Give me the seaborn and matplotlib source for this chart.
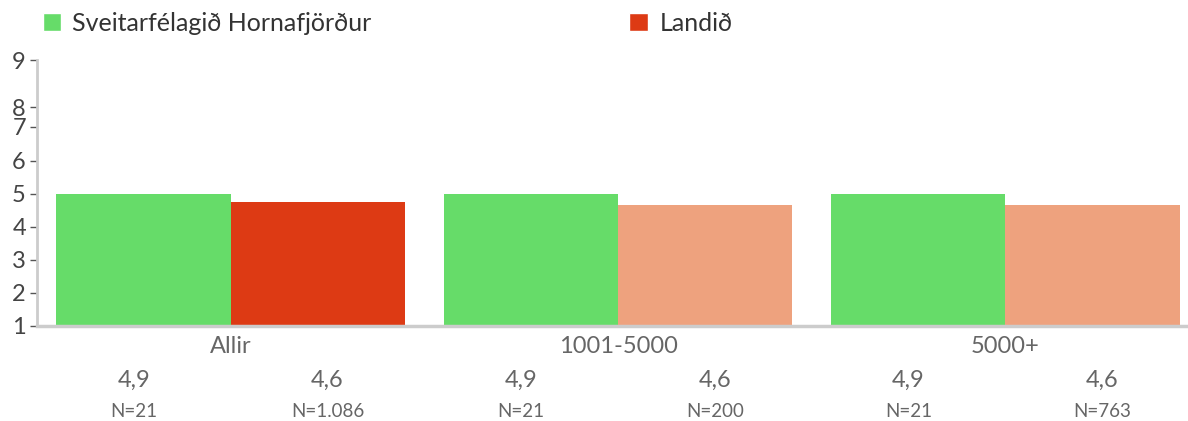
import pandas as pd
import seaborn as sns
import matplotlib.pyplot as plt
from matplotlib.patches import Patch

# data
categories = ['Allir', '1001-5000', '5000+']
series = ['Sveitarfélagið Hornafjörður', 'Landið']
hornafjordur = [4.99, 4.99, 4.99]
landid = [4.75, 4.67, 4.67]
value_labels_h = ['4,9', '4,9', '4,9']
value_labels_l = ['4,6', '4,6', '4,6']
n_labels_h = ['N=21', 'N=21', 'N=21']
n_labels_l = ['N=1.086', 'N=200', 'N=763']
ytick_vals = [1, 2, 3, 4, 5, 6, 7.03, 7.62, 9.04]
ytick_labels = ['1', '2', '3', '4', '5', '6', '7', '8', '9']

green = '#66dc69'
red = '#dd3a14'
salmon = '#eea27e'

sns.set_style('white')
plt.rcParams['font.family'] = ['Lato', 'DejaVu Sans']

df = pd.DataFrame({
    'cat': categories * 2,
    'grp': [series[0]] * 3 + [series[1]] * 3,
    'val': hornafjordur + landid,
})

fig = plt.figure(figsize=(11.88, 4.21), dpi=100)
ax = fig.add_axes([37 / 1188, 95 / 421, 1162 / 1188, 266 / 421])

sns.barplot(data=df, x='cat', y='val', hue='grp', palette=[green, red],
            width=0.9, ax=ax, legend=False, saturation=1, linewidth=0)
# the first Landið bar is red, the others are lighter
for i, bar in enumerate(ax.containers[1]):
    if i > 0:
        bar.set_facecolor(salmon)

ax.set_xlim(-0.5, 2.5)
ax.set_ylim(1, 9.05)
ax.set_yticks(ytick_vals)
ax.set_yticklabels(ytick_labels)
ax.set_xlabel('')
ax.set_ylabel('')
ax.tick_params(axis='y', length=5, width=1, color='#555555', labelsize=17,
               labelcolor='#444444', pad=3, left=True)
ax.tick_params(axis='x', length=0, labelsize=17, labelcolor='#666666', pad=7)

for side in ['top', 'right']:
    ax.spines[side].set_visible(False)
ax.spines['left'].set_color('#cccccc')
ax.spines['left'].set_linewidth(2)
ax.spines['bottom'].set_color('#cccccc')
ax.spines['bottom'].set_linewidth(2.5)

# values and counts under each bar
for i in range(len(categories)):
    for dx, v, n in [(-0.25, value_labels_h[i], n_labels_h[i]),
                     (0.25, value_labels_l[i], n_labels_l[i])]:
        ax.text(i + dx, -0.205, v, transform=ax.get_xaxis_transform(),
                ha='center', va='center', fontsize=17, color='#666666')
        ax.text(i + dx, -0.32, n, transform=ax.get_xaxis_transform(),
                ha='center', va='center', fontsize=13.5, color='#666666')

handles = [Patch(facecolor=green), Patch(facecolor=red)]
fig.legend(handles, series, loc='upper left', bbox_to_anchor=(20 / 1188, 1.025),
           ncol=2, frameon=False, fontsize=18, handlelength=0.75, handleheight=0.75,
           handletextpad=0.45, columnspacing=10.3, labelcolor='#333333')

fig.savefig('out.png', dpi=100)
